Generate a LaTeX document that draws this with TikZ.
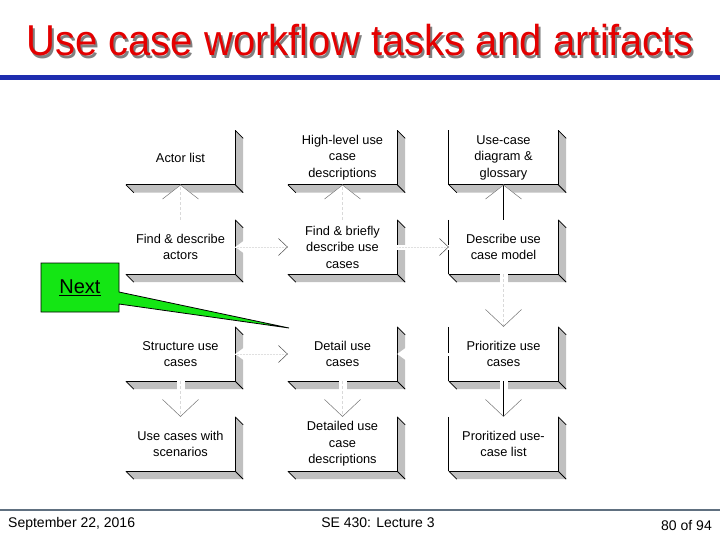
\documentclass[tikz,border=0pt]{standalone}
\usepackage{fontspec}
\setmainfont{Liberation Sans}
\usetikzlibrary{arrows.meta}
\definecolor{boxshade}{RGB}{192,192,192}
\definecolor{titlered}{RGB}{228,0,0}
\definecolor{ruleblue}{RGB}{30,45,175}
\definecolor{footgray}{RGB}{96,112,128}
\definecolor{nextgreen}{RGB}{20,230,20}
\newcommand\shadowtitle[1]{\rlap{\hspace{2pt}\raisebox{-2pt}{\color{black!50}#1}}{\color{titlered}#1}}
\begin{document}
\begin{tikzpicture}[x=1pt,y=-1pt,
  box/.style={minimum width=109pt, minimum height=54pt, inner sep=0pt, align=center,
    font=\fontsize{12.8}{16.5}\selectfont},
  edge/.style={draw=black, line width=0.8pt},
  plain/.style={inner sep=0pt},
  upflow/.style={preaction={draw=white, line width=7pt,
      arrows={-Triangle[length=14pt,width=36pt,line width=0pt]}},
    draw=black!15, densely dashed, line width=0.5pt,
    arrows={-Straight Barb[length=14pt,width=36pt,color=black!55]}},
  upsolid/.style={preaction={draw=white, line width=7pt,
      arrows={-Triangle[length=14pt,width=36pt,line width=0pt]}},
    draw=black, line width=0.7pt,
    arrows={-Straight Barb[length=14pt,width=36pt,color=black!55,line width=0.5pt]}},
  downflow/.style={preaction={draw=white, line width=8pt, arrows=-},
    draw=black!15, densely dashed, line width=0.5pt,
    arrows={-Straight Barb[length=17pt,width=36pt,color=black!55]}},
  downsolid/.style={preaction={draw=white, line width=8pt, arrows=-},
    draw=black, line width=0.7pt,
    arrows={-Straight Barb[length=17pt,width=36pt,color=black!55,line width=0.5pt]}},
  hflow/.style={preaction={draw=white, line width=3pt,
      arrows={Triangle[length=9pt,width=13pt,line width=0pt]-}},
    draw=black!12, densely dotted, line width=0.5pt,
    arrows={-Straight Barb[length=9pt,width=17pt,color=black!70]}},
  hgap/.style={preaction={draw=white, line width=5pt, arrows=-},
    draw=black!12, densely dotted, line width=0.5pt,
    arrows={-Straight Barb[length=9pt,width=17pt,color=black!70]}},
  notchonly/.style={draw=white, line width=3pt,
    arrows={-Triangle[length=9pt,width=13pt,line width=0pt]}}
]
\useasboundingbox (0,0) rectangle (720,540);

% title
\node[plain, anchor=base, font=\fontsize{40}{48}\selectfont] (title) at (360,56)
  {\scalebox{1}[1.08]{\shadowtitle{Use case workflow tasks and artifacts}}};
\fill[ruleblue] (0,75) rectangle (720,80);

% boxes
\node[box] (actorlist) at (180.5,157.5) {Actor list};
\node[box] (hluc) at (342.5,157.5) {High-level use\\case\\descriptions};
\node[box] (ucdiag) at (503.5,157.5) {Use-case\\diagram \&\\glossary};
\node[box] (findact) at (180.5,247) {Find \& describe\\actors};
\node[box] (finduc) at (342.5,247) {Find \& briefly\\describe use\\cases};
\node[box] (descmodel) at (503.5,247) {Describe use\\case model};
\node[box] (struct) at (180.5,354) {Structure use\\cases};
\node[box] (detail) at (342.5,354) {Detail use\\cases};
\node[box] (prio) at (503.5,354) {Prioritize use\\cases};
\node[box] (scen) at (180.5,444) {Use cases with\\scenarios};
\node[box] (detdesc) at (342.5,444) {Detailed use\\case\\descriptions};
\node[box] (priolist) at (503.5,444) {Proritized use-\\case list};

\foreach \n in {actorlist,hluc,ucdiag,findact,finduc,descmodel,struct,detail,prio,scen,detdesc,priolist}{
  \fill[boxshade] (\n.south west) -- (\n.south east) -- (\n.north east)
    -- ([shift={(8,8)}]\n.north east) -- ([shift={(8,8)}]\n.south east)
    -- ([shift={(8,8)}]\n.south west) -- cycle;
  \draw[edge] (\n.north east) -- (\n.south east) -- (\n.south west);
  \draw[edge] (\n.north east) -- ++(8,8) (\n.south east) -- ++(8,8) (\n.south west) -- ++(8,8);
}
\foreach \n in {ucdiag,descmodel,prio,priolist}{
  \draw[edge] (\n.north west) -- (\n.south west);
}

% connectors
\draw[upflow] (findact.north) -- (actorlist.south);
\draw[upflow] (finduc.north) -- (hluc.south);
\draw[upsolid] (descmodel.north) -- (ucdiag.south);
\draw[hflow] (findact.east) -- (finduc.west);
\draw[hgap] (finduc.east) -- (descmodel.west);
\draw[downflow] (descmodel.south) -- (prio.north);
\draw[hflow] (struct.east) -- (detail.west);
\draw[notchonly] (prio.west) -- (detail.east);
\draw[downflow] (struct.south) -- (scen.north);
\draw[downflow] (detail.south) -- (detdesc.north);
\draw[downsolid] (prio.south) -- (priolist.north);

% Next callout
\coordinate (nexttip) at (289,328);
\filldraw[fill=nextgreen, draw=black, line width=0.8pt]
  (41,263) -- (119,263) -- (119,292) -- (nexttip) -- (119,304) -- (119,312) -- (41,312) -- cycle;
\node[plain, font=\fontsize{20}{22}\selectfont] (next) at (80,288) {\underline{Next}};

% footer
\draw[footgray, line width=1.2pt] (0,510) -- (720,510);
\node[plain, anchor=base west, font=\fontsize{14}{16}\selectfont] (date) at (8,527) {September 22, 2016};
\node[plain, anchor=base, font=\fontsize{14}{16}\selectfont] (lect) at (378,527) {SE 430: Lecture 3};
\node[plain, anchor=base east, font=\fontsize{14}{16}\selectfont] (page) at (712,530) {80 of 94};
\end{tikzpicture}
\end{document}
